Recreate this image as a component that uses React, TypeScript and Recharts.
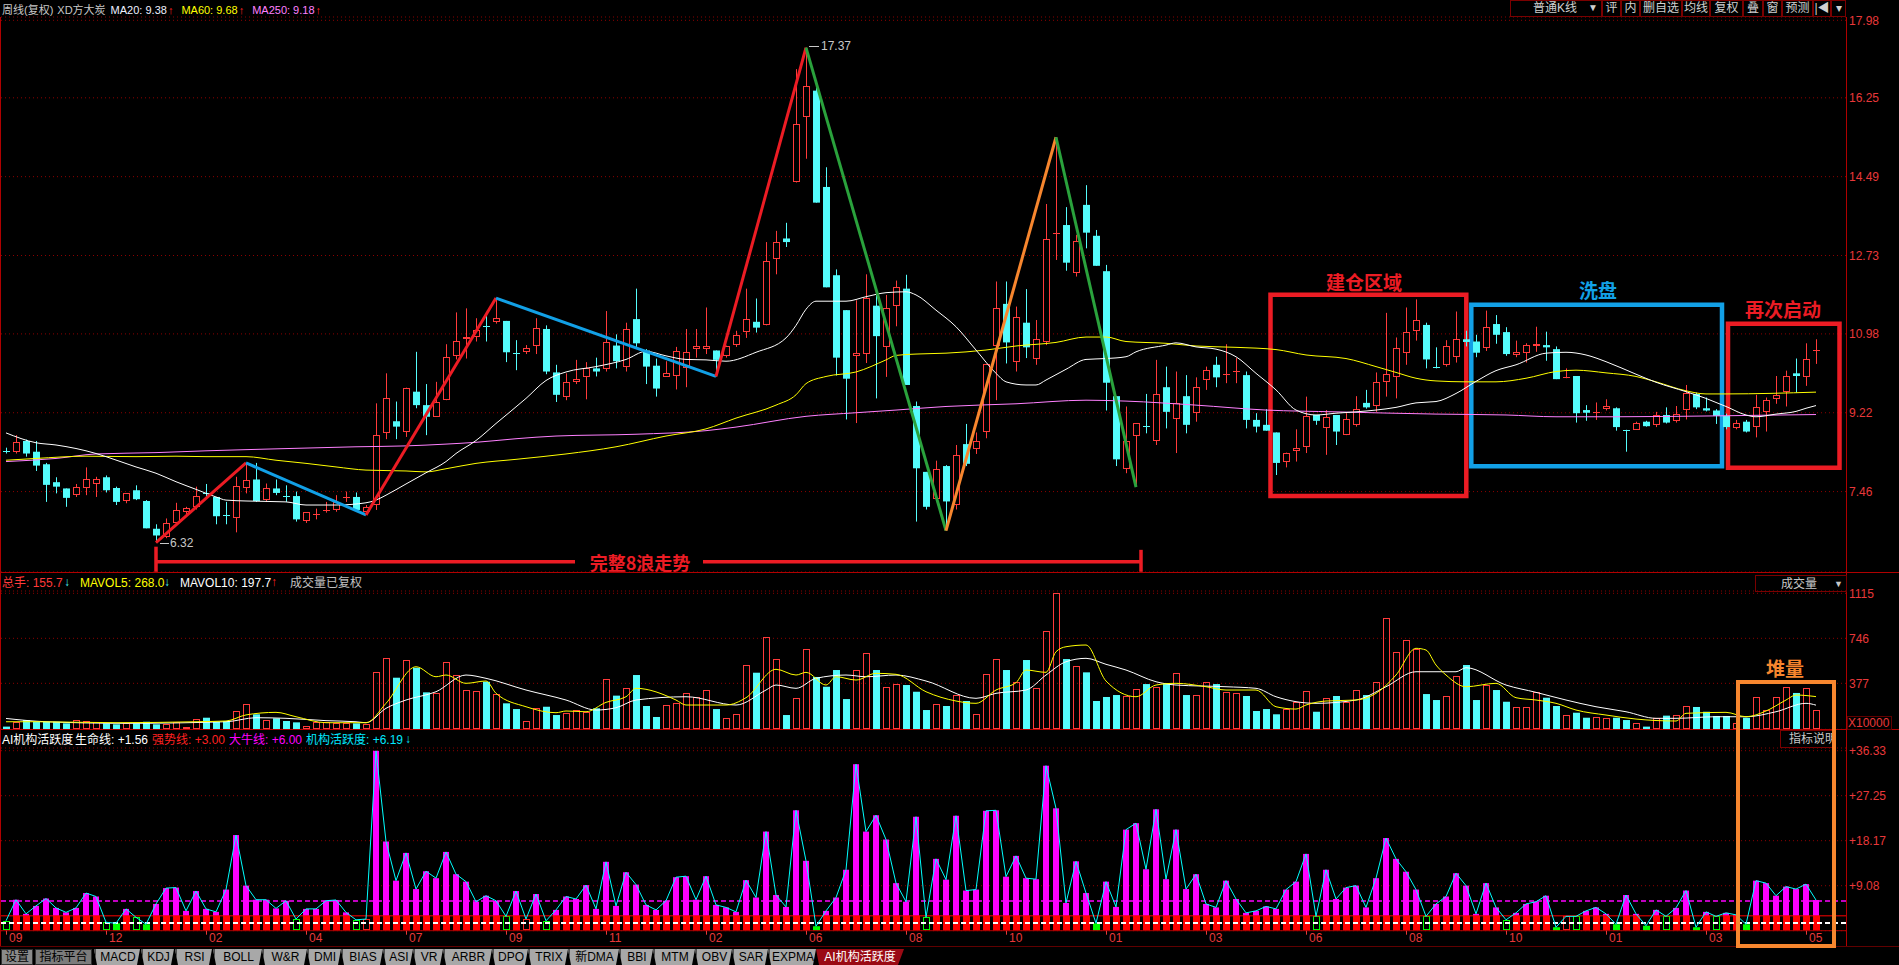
import React from 'react';
import { ComposedChart, Bar, Line, XAxis, YAxis, CartesianGrid, ReferenceLine, ReferenceArea } from 'recharts';

// ---------------- DATA ----------------
const OPEN = [
  8.37, 8.35, 8.59, 8.35, 8.07, 7.67, 7.53, 7.38, 7.55, 7.64,
  7.78, 7.54, 7.25, 7.49, 7.25, 6.63, 6.45, 6.75, 7.00, 7.12,
  7.43, 7.34, 6.94, 6.88, 7.53, 7.73, 7.28, 7.53, 7.37, 7.36,
  6.81, 6.95, 7.05, 7.06, 7.34, 7.34, 7.01, 7.16, 8.76, 9.03,
  8.80, 9.69, 9.39, 9.13, 9.50, 10.49, 10.86, 10.90, 11.17, 11.25,
  11.27, 10.57, 10.57, 10.72, 11.09, 10.12, 9.58, 9.91, 10.02, 10.21,
  10.19, 10.72, 10.25, 11.31, 10.61, 10.27, 10.02, 10.03, 10.21, 10.64,
  10.64, 10.61, 10.49, 10.73, 11.03, 11.25, 11.17, 12.66, 13.11, 14.36,
  15.82, 16.41, 14.26, 12.29, 11.51, 10.49, 10.53, 11.61, 10.69, 11.61,
  11.99, 9.37, 7.90, 7.29, 8.03, 7.16, 8.52, 8.40, 8.78, 10.70,
  11.65, 10.36, 11.23, 10.41, 10.79, 13.23, 13.41, 12.33, 13.86, 13.17,
  12.38, 9.59, 7.96, 8.69, 8.93, 8.58, 9.79, 9.09, 9.59, 9.21,
  9.95, 10.29, 10.08, 10.14, 10.06, 9.06, 8.95, 8.78, 8.13, 8.37,
  8.46, 9.17, 8.87, 9.17, 8.72, 8.95, 9.44, 9.36, 9.91, 10.01,
  10.55, 11.05, 11.18, 10.26, 10.29, 10.46, 10.86, 10.81, 10.66, 11.20,
  11.02, 10.51, 10.55, 10.70, 10.73, 10.64, 10.01, 10.04, 9.28, 9.23,
  9.30, 9.32, 8.84, 8.84, 9.02, 8.95, 9.17, 9.04, 9.28, 9.64,
  9.32, 9.27, 9.15, 8.87, 9.02, 8.90, 9.24, 9.52, 9.69, 10.10,
  10.01, 10.62,
];
const HIGH = [
  8.44, 8.72, 8.62, 8.59, 8.10, 7.78, 7.53, 7.63, 8.00, 7.79,
  7.82, 7.57, 7.42, 7.60, 7.27, 6.73, 6.86, 7.21, 7.12, 7.57,
  7.63, 7.34, 7.23, 7.79, 8.10, 8.10, 7.64, 7.73, 7.60, 7.46,
  7.00, 7.08, 7.23, 7.38, 7.46, 7.44, 7.16, 9.43, 10.10, 9.47,
  9.78, 10.58, 9.86, 9.91, 10.75, 11.46, 11.55, 11.33, 11.47, 11.78,
  11.27, 10.84, 10.73, 11.33, 11.17, 10.29, 10.10, 10.40, 10.35, 10.45,
  11.49, 10.97, 11.23, 11.99, 10.64, 10.43, 10.37, 10.69, 11.09, 11.09,
  11.57, 10.61, 10.72, 11.05, 11.99, 11.77, 13.03, 13.28, 13.46, 16.89,
  17.37, 16.49, 14.70, 12.42, 11.51, 11.73, 12.31, 11.86, 11.85, 12.17,
  12.30, 9.47, 7.90, 8.15, 8.05, 8.50, 8.97, 8.78, 10.31, 12.15,
  12.15, 11.59, 11.98, 11.29, 13.88, 15.37, 13.81, 13.19, 14.30, 13.30,
  12.52, 9.59, 9.36, 8.99, 9.64, 10.40, 10.25, 10.14, 10.06, 10.01,
  10.25, 10.47, 10.75, 10.44, 10.14, 9.21, 9.30, 8.78, 8.33, 8.85,
  9.58, 9.17, 9.28, 9.17, 9.21, 9.59, 9.73, 10.12, 11.45, 10.90,
  11.57, 11.75, 11.23, 10.68, 10.84, 11.48, 11.05, 10.96, 11.50, 11.40,
  11.13, 10.83, 10.77, 11.14, 11.03, 10.70, 10.21, 10.04, 9.39, 9.45,
  9.52, 9.34, 8.84, 9.02, 9.04, 9.24, 9.34, 9.37, 9.84, 9.67,
  9.56, 9.30, 9.20, 9.06, 9.06, 9.62, 9.56, 10.04, 10.16, 10.43,
  10.77, 10.86,
];
const LOW = [
  8.31, 8.31, 8.24, 7.92, 7.23, 7.42, 7.12, 7.34, 7.38, 7.34,
  7.44, 7.16, 7.20, 7.27, 6.64, 6.32, 6.42, 6.71, 6.96, 7.06,
  7.34, 6.73, 6.73, 6.55, 7.42, 7.23, 7.23, 7.38, 7.23, 6.79,
  6.76, 6.84, 6.99, 7.01, 7.23, 7.05, 6.94, 7.05, 8.63, 8.63,
  8.68, 9.32, 8.72, 9.13, 9.50, 10.41, 10.43, 10.81, 10.81, 11.21,
  10.35, 10.17, 10.53, 10.53, 10.08, 9.46, 9.50, 9.86, 9.52, 10.03,
  10.14, 10.21, 10.14, 10.69, 9.86, 9.58, 10.02, 9.74, 9.79, 10.45,
  10.53, 10.03, 10.45, 10.69, 10.89, 11.01, 11.17, 12.31, 12.92, 14.36,
  14.89, 13.91, 12.02, 10.05, 9.07, 8.99, 10.33, 9.54, 10.02, 11.15,
  9.84, 6.79, 7.06, 7.29, 6.59, 7.06, 8.03, 8.30, 8.65, 9.50,
  10.32, 10.14, 10.44, 10.29, 10.73, 12.63, 12.39, 12.26, 12.89, 12.50,
  9.27, 8.03, 7.87, 7.57, 8.76, 8.50, 8.87, 8.32, 8.76, 9.02,
  9.73, 9.79, 9.88, 9.88, 8.87, 8.78, 8.82, 7.83, 8.00, 8.13,
  8.32, 8.95, 8.28, 8.50, 8.72, 8.91, 9.31, 9.24, 9.58, 9.54,
  10.29, 10.83, 10.21, 10.21, 10.25, 10.34, 10.70, 10.46, 10.60, 10.76,
  10.49, 10.46, 10.34, 10.58, 10.38, 9.97, 9.99, 9.00, 9.04, 9.06,
  9.27, 8.82, 8.35, 8.84, 8.91, 8.90, 8.98, 9.00, 9.07, 9.30,
  9.25, 8.97, 8.85, 8.85, 8.78, 8.67, 8.80, 9.42, 9.36, 9.67,
  9.82, 10.31,
];
const CLOSE = [
  8.34, 8.57, 8.31, 8.04, 7.61, 7.57, 7.32, 7.57, 7.73, 7.73,
  7.49, 7.23, 7.42, 7.29, 6.64, 6.48, 6.75, 7.05, 7.09, 7.37,
  7.41, 6.91, 6.93, 7.59, 7.72, 7.25, 7.55, 7.43, 7.36, 6.84,
  7.00, 6.97, 7.07, 7.23, 7.36, 7.05, 7.11, 8.72, 9.56, 8.91,
  9.78, 9.39, 9.13, 9.47, 10.46, 10.83, 10.92, 11.07, 11.15, 11.33,
  10.57, 10.55, 10.67, 11.12, 10.14, 9.62, 9.90, 9.98, 10.21, 10.14,
  10.81, 10.37, 11.09, 10.77, 10.25, 9.76, 10.10, 10.59, 10.57, 10.72,
  10.72, 10.40, 10.72, 10.96, 11.31, 11.12, 12.61, 13.03, 13.03, 15.66,
  16.51, 13.91, 12.02, 10.45, 9.98, 10.56, 11.79, 10.93, 11.55, 12.02,
  9.84, 7.98, 7.12, 7.96, 7.24, 8.28, 8.08, 8.60, 10.31, 11.55,
  10.79, 11.35, 10.68, 10.86, 13.09, 13.25, 12.57, 13.06, 13.24, 12.50,
  9.89, 8.18, 8.60, 8.99, 8.92, 9.64, 9.24, 9.44, 8.95, 9.79,
  10.17, 10.01, 10.11, 10.16, 9.06, 8.91, 8.82, 8.10, 8.33, 8.43,
  9.15, 9.04, 9.12, 8.80, 9.07, 9.30, 9.34, 9.91, 10.08, 10.66,
  11.03, 11.29, 10.41, 10.24, 10.71, 10.86, 10.80, 10.56, 11.13, 10.96,
  10.53, 10.58, 10.73, 10.76, 10.68, 9.97, 10.04, 9.21, 9.22, 9.25,
  9.36, 8.90, 8.83, 8.98, 8.92, 9.17, 9.00, 9.19, 9.67, 9.34,
  9.27, 9.15, 8.90, 8.98, 8.80, 9.34, 9.50, 9.62, 10.04, 10.04,
  10.43, 10.63,
];
// volume (x10000 lots)
const VOLUME = [
  22, 62, 76, 62, 62, 62, 49, 76, 71, 62,
  49, 41, 49, 49, 62, 41, 41, 62, 22, 84,
  95, 62, 68, 150, 205, 123, 76, 90, 68, 57,
  30, 57, 57, 49, 49, 49, 41, 472, 587, 423,
  565, 505, 303, 295, 549, 445, 322, 314, 390, 287,
  213, 166, 68, 172, 185, 117, 131, 158, 144, 172,
  410, 276, 336, 445, 191, 101, 199, 213, 295, 267,
  322, 166, 90, 123, 527, 464, 757, 573, 117, 254,
  656, 429, 349, 486, 248, 483, 623, 486, 344, 371,
  363, 308, 158, 205, 191, 281, 232, 123, 451, 573,
  486, 385, 568, 336, 806, 1115, 576, 519, 467, 232,
  265, 281, 273, 328, 371, 349, 379, 459, 281, 281,
  385, 371, 303, 295, 273, 150, 166, 123, 166, 221,
  314, 144, 259, 273, 221, 322, 281, 385, 910, 631,
  729, 658, 289, 240, 273, 437, 527, 240, 363, 322,
  226, 180, 180, 303, 259, 191, 117, 136, 95, 98,
  95, 95, 76, 54, 22, 90, 112, 117, 191, 183,
  144, 109, 109, 54, 95, 262, 158, 262, 344, 298,
  336, 156,
];
// AI机构活跃度
const ACTIVITY = [
  2.0, 6.25, 3.4, 5.0, 6.5, 4.6, 3.7, 4.6, 7.6, 6.9,
  1.7, 1.5, 4.4, 2.7, 1.3, 5.4, 8.6, 8.7, 4.0, 8.0,
  4.4, 3.8, 8.3, 19.3, 9.1, 6.25, 6.25, 4.5, 6.05, 2.35,
  4.4, 4.4, 6.05, 6.2, 3.7, 2.2, 2.35, 36.3, 18.0, 10.1,
  15.7, 8.4, 12.0, 10.6, 15.9, 11.4, 9.9, 5.85, 7.06, 6.05,
  2.9, 8.0, 2.35, 7.4, 2.0, 4.2, 6.9, 6.4, 9.2, 4.4,
  13.9, 5.0, 11.8, 9.3, 5.2, 4.2, 6.05, 10.8, 11.0, 6.25,
  11.0, 5.2, 4.7, 3.8, 10.2, 6.7, 20.0, 7.2, 4.8, 24.3,
  14.1, 0.9, 4.0, 6.7, 12.3, 33.6, 20.0, 23.3, 18.4, 9.6,
  5.85, 23.0, 2.7, 14.5, 10.3, 23.2, 8.1, 8.3, 24.2, 24.3,
  10.9, 15.1, 10.6, 10.4, 33.3, 24.7, 5.6, 14.0, 7.6, 1.5,
  9.9, 4.8, 20.4, 21.7, 12.4, 24.5, 10.4, 20.4, 8.4, 11.4,
  5.4, 4.7, 10.1, 6.4, 3.6, 4.0, 4.9, 4.4, 8.3, 9.9,
  15.5, 2.9, 12.3, 6.4, 8.7, 9.1, 4.7, 10.6, 18.7, 14.5,
  11.9, 8.3, 2.9, 5.4, 6.9, 11.6, 9.1, 3.4, 9.6, 4.7,
  2.2, 3.6, 5.4, 5.85, 7.06, 0.7, 2.9, 2.9, 4.0, 4.7,
  3.4, 1.3, 7.2, 3.4, 1.0, 4.2, 2.9, 4.6, 8.1, 0.7,
  3.8, 2.9, 3.6, 3.2, 1.3, 10.1, 9.6, 7.06, 8.9, 8.4,
  9.4, 6.19,
];
const HOLLOW_GREEN = [0, 10, 13, 29, 35, 50, 54, 92, 131, 142, 150, 157, 166, 171];
const FILLED_GREEN = [11, 14, 81, 109, 155, 161, 164, 169, 174];
const HOLLOW_RED = [36, 52, 156];

// moving averages: [week index, value]
const MA20_PTS = [
  [0, 8.77], [3, 8.55], [5, 8.50], [9, 8.31], [10, 8.24], [13, 8.01], [15, 7.87], [17, 7.68], [19, 7.51], [21, 7.34],
  [22, 7.27], [24, 7.25], [28, 7.23], [30, 7.16], [33, 7.16], [36, 7.21], [37, 7.27], [38, 7.38], [40, 7.63], [42, 7.88],
  [44, 8.13], [45, 8.31], [47, 8.60], [49, 8.98], [52, 9.54], [54, 9.94], [56, 10.13], [59, 10.25], [62, 10.41], [64, 10.59],
  [66, 10.49], [68, 10.41], [70, 10.40], [72, 10.37], [75, 10.57], [78, 10.89], [79, 11.17], [80, 11.53], [81, 11.71], [84, 11.71],
  [86, 11.81], [88, 11.90], [90, 11.92], [91, 11.85], [93, 11.51], [95, 11.14], [97, 10.62], [99, 10.10], [100, 9.91], [102, 9.84],
  [103, 9.84], [104, 9.95], [106, 10.19], [108, 10.41], [110, 10.43], [112, 10.47], [113, 10.58], [116, 10.73], [117, 10.78], [119, 10.69],
  [121, 10.64], [123, 10.47], [125, 10.10], [127, 9.73], [129, 9.28], [131, 9.17], [133, 9.21], [135, 9.24], [137, 9.28], [139, 9.34],
  [141, 9.44], [143, 9.47], [145, 9.65], [147, 9.92], [149, 10.16], [151, 10.29], [154, 10.55], [156, 10.57], [158, 10.51], [160, 10.36],
  [163, 10.08], [165, 9.90], [168, 9.69], [170, 9.54], [171, 9.45], [172, 9.36], [174, 9.17], [175, 9.13], [177, 9.19], [179, 9.25],
  [180, 9.32], [181, 9.38],
];
const MA60_PTS = [
  [0, 8.16], [3, 8.20], [8, 8.25], [13, 8.24], [17, 8.25], [20, 8.24], [24, 8.24], [27, 8.16], [30, 8.09], [33, 8.01],
  [36, 7.94], [40, 7.92], [42, 7.90], [44, 7.97], [47, 8.09], [51, 8.18], [56, 8.30], [61, 8.46], [66, 8.70], [70, 8.86],
  [73, 9.10], [77, 9.39], [79, 9.62], [80, 9.87], [82, 10.03], [85, 10.13], [88, 10.40], [89, 10.50], [91, 10.53], [94, 10.55],
  [98, 10.62], [101, 10.71], [105, 10.79], [108, 10.91], [110, 10.91], [112, 10.81], [116, 10.77], [119, 10.71], [123, 10.68], [127, 10.63],
  [130, 10.51], [134, 10.43], [137, 10.25], [139, 10.12], [141, 9.99], [143, 9.93], [146, 9.91], [149, 9.91], [152, 9.99], [155, 10.14],
  [157, 10.17], [160, 10.11], [163, 10.03], [165, 9.91], [168, 9.71], [170, 9.64], [172, 9.64], [181, 9.68],
];
const MA250_PTS = [
  [0, 8.13], [5, 8.20], [9, 8.30], [15, 8.33], [20, 8.37], [28, 8.42], [35, 8.46], [40, 8.48], [44, 8.52], [47, 8.56],
  [51, 8.64], [55, 8.70], [63, 8.74], [70, 8.82], [73, 8.90], [80, 9.14], [85, 9.22], [89, 9.28], [94, 9.36], [101, 9.42],
  [108, 9.50], [112, 9.48], [119, 9.39], [126, 9.28], [133, 9.24], [143, 9.19], [150, 9.17], [155, 9.13], [161, 9.13], [171, 9.15],
  [181, 9.18],
];
const MAVOL5_PTS = [
  [0, 62], [3, 62], [11, 54], [19, 62], [22, 68], [24, 118], [27, 139], [29, 103], [32, 54], [36, 54],
  [38, 213], [41, 513], [43, 431], [44, 445], [46, 377], [48, 396], [49, 295], [52, 185], [55, 136], [56, 150],
  [58, 144], [60, 221], [62, 267], [63, 336], [67, 240], [68, 199], [72, 199], [74, 259], [77, 492], [79, 445],
  [80, 467], [82, 363], [83, 431], [85, 404], [87, 459], [89, 451], [92, 308], [95, 232], [97, 213], [99, 322],
  [101, 382], [102, 486], [104, 467], [105, 636], [106, 677], [108, 691], [110, 396], [113, 267], [115, 363], [117, 377],
  [120, 349], [122, 322], [125, 322], [127, 185], [129, 166], [130, 199], [132, 232], [135, 240], [137, 295], [139, 445],
  [141, 664], [142, 650], [143, 527], [144, 445], [146, 349], [149, 377], [151, 259], [153, 240], [155, 213], [157, 158],
  [160, 117], [163, 84], [167, 68], [168, 131], [172, 139], [174, 103], [176, 150], [178, 240], [179, 281], [181, 268],
];
const MAVOL10_PTS = [
  [0, 89], [4, 62], [12, 49], [22, 62], [25, 95], [28, 90], [32, 71], [35, 62], [36, 54], [38, 172],
  [40, 240], [43, 308], [46, 445], [48, 418], [52, 322], [56, 240], [59, 158], [61, 177], [63, 240], [68, 267],
  [73, 199], [76, 322], [77, 363], [79, 336], [81, 418], [84, 445], [86, 431], [89, 445], [92, 396], [97, 254],
  [99, 295], [102, 322], [104, 445], [106, 554], [108, 582], [110, 533], [112, 486], [115, 390], [117, 363], [122, 349],
  [125, 336], [127, 267], [131, 213], [135, 240], [138, 349], [141, 472], [145, 472], [146, 505], [150, 363], [153, 303],
  [156, 240], [159, 185], [162, 144], [165, 90], [167, 90], [171, 103], [174, 103], [177, 144], [180, 213], [181, 198],
];

// zig-zag wave turning points [week index, price]
const WAVE_PTS = [[15, 6.32], [24, 8.10], [36, 6.94], [49, 11.78], [71, 10.03], [80, 17.37], [94, 6.59], [105, 15.37], [113, 7.56]];

const PRICE_TICKS = [7.46, 9.22, 10.98, 12.73, 14.49, 16.25, 17.98];
const VOL_TICKS = [377, 746, 1115];
const ACT_TICKS = [9.08, 18.17, 27.25, 36.33];
const DATE_TICKS = [0, 10, 20, 30, 40, 50, 60, 70, 80, 90, 100, 110, 120, 130, 140, 150, 160, 170, 180];
const DATE_LABELS = ['09', '12', '02', '04', '07', '09', '11', '02', '06', '08', '10', '01', '03', '06', '08', '10', '01', '03', '05'];

const TABS = ['MACD', 'KDJ', 'RSI', 'BOLL', 'W&R', 'DMI', 'BIAS', 'ASI', 'VR', 'ARBR', 'DPO', 'TRIX', '新DMA', 'BBI', 'MTM', 'OBV', 'SAR', 'EXPMA'];

// ---------------- TABLE ----------------
const rows: any[] = OPEN.map((o, i) => ({
  i, o, h: HIGH[i], l: LOW[i], c: CLOSE[i],
  range: [LOW[i], HIGH[i]],
  vol: VOLUME[i],
  act: ACTIVITY[i],
  actRange: [0, ACTIVITY[i]],
  ma20: null, ma60: null, ma250: null, mv5: null, mv10: null,
}));
MA20_PTS.forEach(([i, v]) => { rows[i].ma20 = v; });
MA60_PTS.forEach(([i, v]) => { rows[i].ma60 = v; });
MA250_PTS.forEach(([i, v]) => { rows[i].ma250 = v; });
MAVOL5_PTS.forEach(([i, v]) => { rows[i].mv5 = v; });
MAVOL10_PTS.forEach(([i, v]) => { rows[i].mv10 = v; });

const SIGNAL: Record<number, string> = {};
HOLLOW_GREEN.forEach((i) => { SIGNAL[i] = 'hg'; });
FILLED_GREEN.forEach((i) => { SIGNAL[i] = 'fg'; });
HOLLOW_RED.forEach((i) => { SIGNAL[i] = 'hr'; });

// ---------------- STYLE ----------------
const UP = '#ff3a3a';
const DOWN = '#54fcfc';
const GRID = '#8c0000';
const AXIS_TEXT = '#e8383a';
const FRAME = '#b00000';
const ANN_RED = '#ec1c24';
const ANN_BLUE = '#12a0e6';
const ANN_GREEN = '#2aa23c';
const ANN_ORANGE = '#f7862e';
const SANS = '"Liberation Sans", Arial, "Noto Sans CJK SC", sans-serif';
const CJK = '"Noto Sans CJK SC", "Liberation Sans", sans-serif';

const X_DOMAIN: [number, number] = [-0.5, 184];
const P_MIN = 5.665;
const P_MAX = 18.054;

// ---------------- SHAPES ----------------
function Candle(props: any) {
  const { x, y, width, height, payload } = props;
  if (!payload || x == null || y == null) return null;
  const { o, h, l, c } = payload;
  const top = Math.min(y, y + height);
  const bot = Math.max(y, y + height);
  const span = h - l;
  const py = (v: number) => (span > 0 ? top + ((h - v) / span) * (bot - top) : top);
  const cx = Math.round(x + width / 2);
  const wx = cx + 0.5;
  const bTop = py(Math.max(o, c));
  const bBot = py(Math.min(o, c));
  const up = c >= o;
  const color = up ? UP : DOWN;
  if (bBot - bTop < 1.6) {
    const yy = Math.round((bTop + bBot) / 2) + 0.5;
    return (
      <g>
        <line x1={wx} x2={wx} y1={top} y2={bot} stroke={color} strokeWidth={1} />
        <line x1={cx - 3} x2={cx + 4} y1={yy} y2={yy} stroke={color} strokeWidth={1} />
      </g>
    );
  }
  if (up) {
    const yt = Math.round(bTop) + 0.5;
    const yb = Math.round(bBot) - 0.5;
    return (
      <g>
        <line x1={wx} x2={wx} y1={top} y2={yt} stroke={UP} strokeWidth={1} />
        <line x1={wx} x2={wx} y1={yb} y2={bot} stroke={UP} strokeWidth={1} />
        <rect x={cx - 3 + 0.5} y={yt} width={6} height={Math.max(1, yb - yt)} fill="#000" stroke={UP} strokeWidth={1} />
      </g>
    );
  }
  return (
    <g>
      <line x1={wx} x2={wx} y1={top} y2={bot} stroke={DOWN} strokeWidth={1} />
      <rect x={cx - 3} y={bTop} width={7} height={Math.max(1, bBot - bTop)} fill={DOWN} />
    </g>
  );
}

function VolBar(props: any) {
  const { x, y, width, height, payload } = props;
  if (!payload || x == null || y == null) return null;
  const top = Math.min(y, y + height);
  const bot = Math.max(y, y + height);
  const cx = Math.round(x + width / 2);
  if (payload.c >= payload.o) {
    const yt = Math.round(top) + 0.5;
    return <rect x={cx - 3 + 0.5} y={yt} width={6} height={Math.max(1, Math.round(bot) - 0.5 - yt)} fill="none" stroke={UP} strokeWidth={1} />;
  }
  return <rect x={cx - 3} y={top} width={7} height={Math.max(1, bot - top)} fill={DOWN} />;
}

function ActBar(props: any) {
  const { x, y, width, height, payload } = props;
  if (!payload || x == null || y == null) return null;
  const v = payload.act;
  const top = Math.min(y, y + height);
  const bot = Math.max(y, y + height);
  const ppu = v > 0 ? (bot - top) / v : 0;
  const cx = Math.round(x + width / 2);
  const sig = SIGNAL[payload.i];
  if (sig) {
    const color = sig === 'hr' ? '#ff2020' : '#00ff00';
    if (sig === 'fg') {
      return <rect x={cx - 3} y={top} width={7} height={Math.max(3, bot - top)} fill={color} />;
    }
    const yt = Math.round(top) + 0.5;
    return <rect x={cx - 3 + 0.5} y={yt} width={6} height={Math.max(3, Math.round(bot) - 1.5 - yt)} fill="none" stroke={color} strokeWidth={1} />;
  }
  const y3 = bot - 3 * ppu;
  return (
    <g>
      <rect x={cx - 3} y={y3} width={7} height={bot - y3} fill="#ff0000" />
      {v > 3 ? <rect x={cx - 3} y={top} width={6} height={y3 - top} fill="#ff00ff" /> : null}
    </g>
  );
}

function DateTick(props: any) {
  const { x, y, payload } = props;
  const k = DATE_TICKS.indexOf(payload.value);
  const label = k >= 0 ? DATE_LABELS[k] : '';
  return (
    <g>
      <line x1={Math.round(x) + 0.5} x2={Math.round(x) + 0.5} y1={y} y2={y + 4} stroke={AXIS_TEXT} strokeWidth={1} />
      <text x={x + 3} y={y + 7} dy="0.35em" fill={AXIS_TEXT} fontSize={12} fontFamily={SANS}>{label}</text>
    </g>
  );
}

// ---------------- HTML helpers ----------------
const T = ({ l, t, c, s = 12, children, w }: any) => (
  <div style={{ position: 'absolute', left: l, top: t, color: c, fontSize: s, lineHeight: '14px', whiteSpace: 'nowrap', fontFamily: SANS, fontWeight: w || 400 }}>{children}</div>
);
const Row = ({ l, t, items }: any) => (
  <div style={{ position: 'absolute', left: l, top: t, display: 'flex', alignItems: 'baseline', whiteSpace: 'nowrap', fontFamily: SANS, lineHeight: '14px' }}>
    {items.map((it: any, k: number) => (
      <span key={k} style={{ color: it[1], fontSize: it[2], marginRight: it[3], fontWeight: it[4] || 400 }}>{it[0]}</span>
    ))}
  </div>
);
const HLine = ({ l, t, w, c, h = 1 }: any) => <div style={{ position: 'absolute', left: l, top: t, width: w, height: h, background: c }} />;
const VLine = ({ l, t, h, c, w = 1 }: any) => <div style={{ position: 'absolute', left: l, top: t, width: w, height: h, background: c }} />;
const Btn = ({ l, w, children }: any) => (
  <div style={{ position: 'absolute', left: l, top: 0, width: w, height: 17, border: '1px solid #7a0000', boxSizing: 'border-box', color: '#d0d0d0', fontSize: 12, lineHeight: '15px', textAlign: 'center', fontFamily: SANS, whiteSpace: 'nowrap', overflow: 'hidden' }}>{children}</div>
);
const Ann = ({ cx, cy, c, s = 19, children }: any) => (
  <div style={{ position: 'absolute', left: cx, top: cy, transform: 'translate(-50%, -50%)', color: c, fontSize: s, fontWeight: 700, fontFamily: CJK, whiteSpace: 'nowrap', lineHeight: 1 }}>{children}</div>
);

const TOOL_BTNS: [number, number, string][] = [
  [1602, 19, '评'], [1621, 19, '内'], [1640, 42, '删自选'], [1682, 28, '均线'], [1710, 33, '复权'],
  [1743, 20, '叠'], [1763, 19, '窗'], [1782, 31, '预测'], [1813, 18, '|◀'], [1831, 15, '▾'],
];
const TAB_POS: [number, number][] = [
  [94, 46], [141, 33], [175, 37], [213, 49], [262, 45], [307, 34], [341, 42], [383, 30], [413, 30], [443, 49],
  [492, 36], [528, 40], [568, 51], [619, 34], [653, 42], [695, 37], [732, 36], [768, 48],
];

export default function App() {
  const waveColors = [ANN_RED, ANN_BLUE, ANN_RED, ANN_BLUE, ANN_RED, ANN_GREEN, ANN_ORANGE, ANN_GREEN];
  const segs = WAVE_PTS.slice(1).map((p, k) => ({ a: WAVE_PTS[k], b: p, color: waveColors[k] }));
  const bracketY = 5.895;
  return (
    <div style={{ position: 'absolute', left: 0, top: 0, width: 1899, height: 965, background: '#000', overflow: 'hidden', fontFamily: SANS }}>
      {/* ---------- price panel ---------- */}
      <div style={{ position: 'absolute', left: 0, top: 0 }}>
        <ComposedChart width={1899} height={575} data={rows} margin={{ top: 17, right: 0, bottom: 3, left: 1 }}>
          <CartesianGrid vertical={false} stroke={GRID} strokeDasharray="1 3" />
          <XAxis type="number" dataKey="i" domain={X_DOMAIN} hide allowDataOverflow />
          <YAxis orientation="right" width={53} domain={[P_MIN, P_MAX]} ticks={PRICE_TICKS} allowDataOverflow interval={0}
            axisLine={false} tickLine={false} tickSize={0} tickMargin={3}
            tick={{ fill: AXIS_TEXT, fontSize: 12, fontFamily: SANS }} tickFormatter={(v: number) => v.toFixed(2)} />
          <Bar dataKey="range" barSize={7} shape={(p: any) => <Candle {...p} />} isAnimationActive={false} />
          <Line dataKey="ma250" type="monotone" stroke="#ff80ff" strokeWidth={1} dot={false} activeDot={false} connectNulls isAnimationActive={false} />
          <Line dataKey="ma60" type="monotone" stroke="#ffff00" strokeWidth={1} dot={false} activeDot={false} connectNulls isAnimationActive={false} />
          <Line dataKey="ma20" type="monotone" stroke="#ffffff" strokeWidth={1} dot={false} activeDot={false} connectNulls isAnimationActive={false} />
          {segs.map((s, k) => (
            <ReferenceLine key={'w' + k} segment={[{ x: s.a[0], y: s.a[1] }, { x: s.b[0], y: s.b[1] }]} stroke={s.color} strokeWidth={3} ifOverflow="visible" />
          ))}
          <ReferenceLine segment={[{ x: 15, y: bracketY }, { x: 56.9, y: bracketY }]} stroke={ANN_RED} strokeWidth={3.5} ifOverflow="visible" />
          <ReferenceLine segment={[{ x: 69.7, y: bracketY }, { x: 113.5, y: bracketY }]} stroke={ANN_RED} strokeWidth={3.5} ifOverflow="visible" />
          <ReferenceLine segment={[{ x: 15, y: 6.23 }, { x: 15, y: 5.67 }]} stroke={ANN_RED} strokeWidth={3.5} ifOverflow="visible" />
          <ReferenceLine segment={[{ x: 113.5, y: 6.16 }, { x: 113.5, y: 5.67 }]} stroke={ANN_RED} strokeWidth={3.5} ifOverflow="visible" />
          <ReferenceArea x1={126.45} x2={146.03} y1={7.362} y2={11.855} stroke={ANN_RED} strokeWidth={4.5} fill="none" fillOpacity={0} ifOverflow="visible" />
          <ReferenceArea x1={146.53} x2={171.6} y1={8.025} y2={11.632} stroke={ANN_BLUE} strokeWidth={4.5} fill="none" fillOpacity={0} ifOverflow="visible" />
          <ReferenceArea x1={172.2} x2={183.35} y1={7.991} y2={11.206} stroke={ANN_RED} strokeWidth={4.5} fill="none" fillOpacity={0} ifOverflow="visible" />
        </ComposedChart>
      </div>

      {/* ---------- volume panel ---------- */}
      <div style={{ position: 'absolute', left: 0, top: 575 }}>
        <ComposedChart width={1899} height={160} data={rows} margin={{ top: 16, right: 0, bottom: 5.7, left: 1 }}>
          <CartesianGrid vertical={false} stroke={GRID} strokeDasharray="1 3" />
          <XAxis type="number" dataKey="i" domain={X_DOMAIN} hide allowDataOverflow />
          <YAxis orientation="right" width={53} domain={[0, 1134]} ticks={VOL_TICKS} allowDataOverflow interval={0}
            axisLine={false} tickLine={false} tickSize={0} tickMargin={3}
            tick={{ fill: AXIS_TEXT, fontSize: 12, fontFamily: SANS }} />
          <Bar dataKey="vol" barSize={7} shape={(p: any) => <VolBar {...p} />} isAnimationActive={false} />
          <Line dataKey="mv10" type="monotone" stroke="#ffffff" strokeWidth={1} dot={false} activeDot={false} connectNulls isAnimationActive={false} />
          <Line dataKey="mv5" type="monotone" stroke="#ffff00" strokeWidth={1} dot={false} activeDot={false} connectNulls isAnimationActive={false} />
        </ComposedChart>
      </div>

      {/* ---------- indicator panel ---------- */}
      <div style={{ position: 'absolute', left: 0, top: 735 }}>
        <ComposedChart width={1899} height={210} data={rows} margin={{ top: 13, right: 0, bottom: 0.3, left: 1 }}>
          <CartesianGrid vertical={false} stroke={GRID} strokeDasharray="1 3" />
          <XAxis type="number" dataKey="i" domain={X_DOMAIN} allowDataOverflow ticks={DATE_TICKS} interval={0} height={14}
            tickSize={0} tickMargin={0} tickLine={false} axisLine={{ stroke: FRAME }} tick={(p: any) => <DateTick {...p} />} />
          <YAxis orientation="right" width={53} domain={[0, 36.875]} ticks={ACT_TICKS} allowDataOverflow interval={0}
            axisLine={false} tickLine={false} tickSize={0} tickMargin={3}
            tick={{ fill: AXIS_TEXT, fontSize: 12, fontFamily: SANS }} tickFormatter={(v: number) => '+' + v.toFixed(2)} />
          <Bar dataKey="actRange" barSize={7} shape={(p: any) => <ActBar {...p} />} isAnimationActive={false} />
          <ReferenceLine y={3} stroke="#ff0000" strokeWidth={1} />
          <ReferenceLine y={6} stroke="#ff00ff" strokeWidth={1.5} strokeDasharray="5 3" />
          <ReferenceLine y={1.56} stroke="#ffffff" strokeWidth={2} strokeDasharray="5 3" />
          <Line dataKey="act" type="linear" stroke="#00ffff" strokeWidth={1} dot={false} activeDot={false} isAnimationActive={false} />
        </ComposedChart>
      </div>

      {/* ---------- frame lines ---------- */}
      <VLine l={0} t={17} h={930} c={FRAME} />
      <VLine l={1846} t={17} h={930} c={FRAME} />
      <HLine l={0} t={572} w={1899} c={FRAME} />
      <HLine l={0} t={729} w={1899} c={FRAME} />
      <HLine l={0} t={946} w={1899} c="#600000" />

      {/* ---------- header ---------- */}
      <Row l={2} t={3} items={[
        ['周线(复权)', '#c8c8c8', 11, 4],
        ['XD方大炭', '#c8c8c8', 11, 5],
        ['MA20: 9.38', '#eef0ff', 11, 1],
        ['↑', '#ff2020', 11, 8, 700],
        ['MA60: 9.68', '#ffff00', 11, 1],
        ['↑', '#ff2020', 11, 8, 700],
        ['MA250: 9.18', '#ff80ff', 11, 1],
        ['↑', '#ff2020', 11, 0, 700],
      ]} />

      {/* toolbar */}
      <div style={{ position: 'absolute', left: 1510, top: 0, width: 92, height: 17, border: '1px solid #7a0000', boxSizing: 'border-box' }} />
      <T l={1533} t={1} c="#d0d0d0" s={12}>普通K线</T>
      <T l={1588} t={1} c="#d0d0d0" s={10}>▼</T>
      {TOOL_BTNS.map(([l, w, s]) => <Btn key={l} l={l} w={w}>{s}</Btn>)}

      {/* price labels */}
      <HLine l={809} t={46} w={10} c="#c8c8c8" />
      <T l={821} t={39} c="#c8c8c8" s={12}>17.37</T>
      <HLine l={160} t={543} w={9} c="#c8c8c8" />
      <T l={170} t={536} c="#c8c8c8" s={12}>6.32</T>

      {/* annotations */}
      <Ann cx={640} cy={562} c={ANN_RED} s={18}>完整8浪走势</Ann>
      <Ann cx={1364} cy={281} c={ANN_RED}>建仓区域</Ann>
      <Ann cx={1598} cy={289} c={ANN_BLUE}>洗盘</Ann>
      <Ann cx={1783} cy={308} c={ANN_RED}>再次启动</Ann>
      <Ann cx={1785} cy={667} c={ANN_ORANGE}>堆量</Ann>

      {/* volume header */}
      <T l={2} t={576} c="#ff3a3a" s={12}>总手: 155.7</T>
      <T l={64} t={575} c="#40f0f0" s={12} w={700}>↓</T>
      <T l={80} t={576} c="#ffff00" s={12}>MAVOL5: 268.0</T>
      <T l={164} t={575} c="#40f0f0" s={12} w={700}>↓</T>
      <T l={180} t={576} c="#ffffff" s={12}>MAVOL10: 197.7</T>
      <T l={271} t={575} c="#ff2020" s={12} w={700}>↑</T>
      <T l={290} t={576} c="#c0c0c0" s={12}>成交量已复权</T>
      <div style={{ position: 'absolute', left: 1755, top: 575, width: 92, height: 17, border: '1px solid #7a0000', boxSizing: 'border-box' }} />
      <T l={1781} t={577} c="#c8c8c8" s={12}>成交量</T>
      <T l={1834} t={577} c="#c8c8c8" s={9}>▼</T>
      <div style={{ position: 'absolute', left: 1847, top: 716, width: 45, height: 14, border: '1px solid #600000', boxSizing: 'border-box' }} />
      <T l={1848} t={716} c={AXIS_TEXT} s={12}>X10000</T>

      {/* indicator header */}
      <T l={2} t={733} c="#ffffff" s={12}>AI机构活跃度</T>
      <T l={75} t={733} c="#ffffff" s={12}>生命线: +1.56</T>
      <T l={152} t={733} c="#ff2020" s={12}>强势线: +3.00</T>
      <T l={229} t={733} c="#ff00ff" s={12}>大牛线: +6.00</T>
      <T l={306} t={733} c="#00e8ff" s={12}>机构活跃度: +6.19</T>
      <T l={405} t={732} c="#00e8ff" s={12} w={700}>↓</T>
      <div style={{ position: 'absolute', left: 1780, top: 730, width: 56, height: 18, border: '1px solid #7a0000', boxSizing: 'border-box', color: '#c8c8c8', fontSize: 12, lineHeight: '16px', paddingLeft: 8, fontFamily: SANS, whiteSpace: 'nowrap', overflow: 'hidden' }}>指标说明</div>

      {/* orange volume box */}
      <div style={{ position: 'absolute', left: 1736, top: 680, width: 100, height: 268, border: `4px solid ${ANN_ORANGE}`, boxSizing: 'border-box' }} />

      {/* ---------- bottom tabs ---------- */}
      <div style={{ position: 'absolute', left: 1, top: 949, width: 32, height: 16, background: '#8a8a8a', border: '1px solid #303030', boxSizing: 'border-box', fontSize: 12, lineHeight: '14px', textAlign: 'center', color: '#000', fontFamily: SANS }}>设置</div>
      <div style={{ position: 'absolute', left: 35, top: 949, width: 57, height: 16, background: '#7c7c7c', border: '1px solid #303030', boxSizing: 'border-box', fontSize: 12, lineHeight: '14px', textAlign: 'center', color: '#000', fontFamily: SANS }}>指标平台</div>
      {TABS.map((t, k) => (
        <div key={t} style={{ position: 'absolute', left: TAB_POS[k][0], top: 949, width: TAB_POS[k][1], height: 16, background: '#a8a8a8', borderLeft: '2px solid #505050', boxSizing: 'border-box', fontSize: 12, lineHeight: '16px', textAlign: 'center', color: '#000', fontFamily: SANS, clipPath: 'polygon(0 0, 100% 0, calc(100% - 3px) 100%, 3px 100%)' }}>{t}</div>
      ))}
      <div style={{ position: 'absolute', left: 816, top: 949, width: 88, height: 16, background: '#9a0a14', boxSizing: 'border-box', fontSize: 12, lineHeight: '16px', textAlign: 'center', color: '#ffffff', fontFamily: SANS, clipPath: 'polygon(0 0, 100% 0, calc(100% - 6px) 100%, 3px 100%)' }}>AI机构活跃度</div>
    </div>
  );
}
